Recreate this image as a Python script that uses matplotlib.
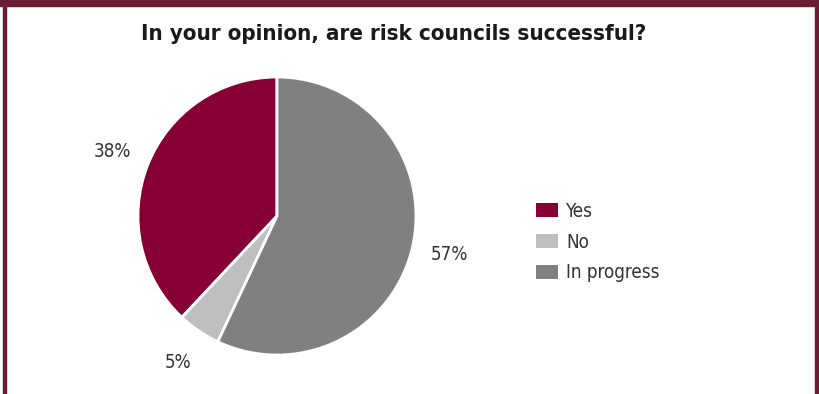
import matplotlib.pyplot as plt
from matplotlib.patches import Rectangle, Patch

# data
labels = ['Yes', 'No', 'In progress']
values = [38, 5, 57]
colors = ['#870035', '#BFBFBF', '#808080']
title = 'In your opinion, are risk councils successful?'

plt.rcParams['font.family'] = ['DejaVu Sans']
plt.rcParams['font.stretch'] = 'condensed'

fig = plt.figure(figsize=(8.19, 3.94), dpi=100)
W, H = 819, 394

# frame: thick top bar and thin side lines
maroon = '#6B1D33'
fig.patches.append(Rectangle((0, 1 - 6 / H), 1, 6 / H, transform=fig.transFigure,
                             color=maroon, zorder=0))
fig.patches.append(Rectangle((3 / W, 0), 3 / W, 1, transform=fig.transFigure,
                             color=maroon, zorder=0))
fig.patches.append(Rectangle((815 / W, 0), 3 / W, 1, transform=fig.transFigure,
                             color=maroon, zorder=0))

fig.text(394 / W, 1 - 34 / H, title, ha='center', va='center',
         fontsize=16, fontweight='bold', color='#1a1a1a', fontstretch='condensed')

# pie axes: center (277, 216), radius 139 px
r = 139
ax = fig.add_axes([(277 - r) / W, (H - 216 - r) / H, 2 * r / W, 2 * r / H])
wedges, texts, autotexts = ax.pie(values, colors=colors, startangle=90,
                                  counterclock=True,
                                  autopct=lambda p: f'{p:.0f}%',
                                  pctdistance=1.27,
                                  wedgeprops=dict(edgecolor='white', linewidth=2),
                                  textprops=dict(fontsize=13.5, color='#333333',
                                                 fontstretch='condensed'))
ax.set_xlim(-1, 1)
ax.set_ylim(-1, 1)
ax.set_aspect('equal')

handles = [Patch(facecolor=c, edgecolor='none') for c in colors]
fig.legend(handles, labels, loc='center left', bbox_to_anchor=(536 / W, (H - 242) / H),
           frameon=False, fontsize=13.5, handlelength=1.17, handleheight=0.78,
           handletextpad=0.45, labelspacing=0.62, borderpad=0, borderaxespad=0,
           labelcolor='#333333')

fig.savefig('out.png', dpi=100, facecolor='white')
